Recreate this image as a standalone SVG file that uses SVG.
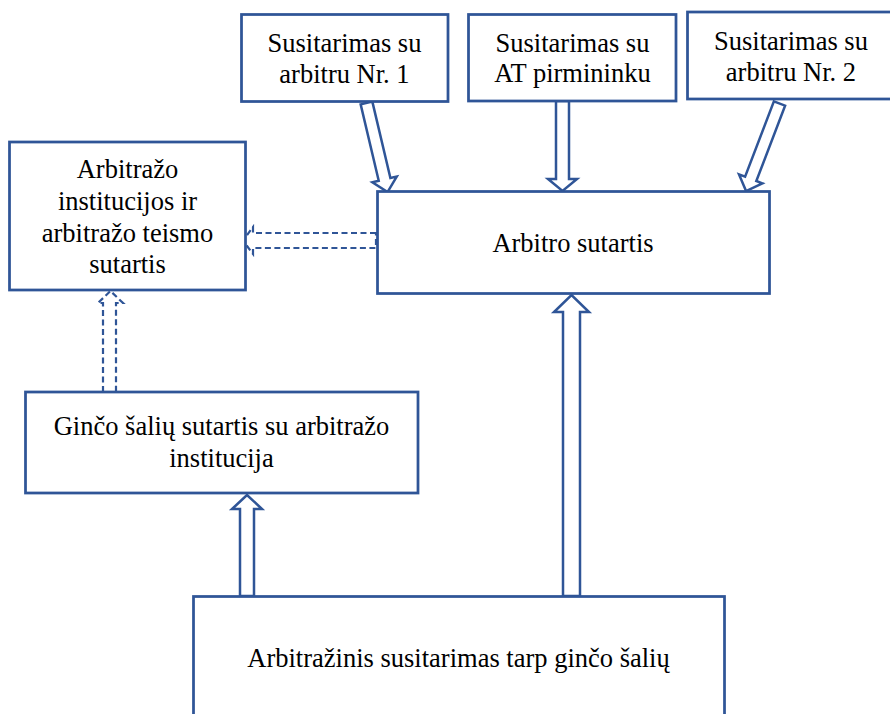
<svg xmlns="http://www.w3.org/2000/svg" width="890" height="714" viewBox="0 0 890 714">
<style>
.box{fill:#fff;stroke:#2F5597;stroke-width:2.75}
.arr{fill:#fff;stroke:#2F5597;stroke-width:2.5;stroke-linejoin:miter}
.dash{fill:#fff;stroke:#2F5597;stroke-width:2.2;stroke-dasharray:6 3.5}
.t{font-family:'Liberation Serif','DejaVu Serif',serif;font-size:26.5px;fill:#000;text-anchor:middle}
</style>
<rect x="0" y="0" width="890" height="714" fill="#fff"/>
<g id="connectors">
  <polygon class="arr" transform="translate(366.5,103) rotate(-13.3) translate(0,91.5)" points="-6,-91.5 6,-91.5 6,-13 12.5,-13 0,0 -12.5,-13 -6,-13"/>
  <polygon class="arr" points="556,101 569,101 569,179 577,179 562.5,191 548,179 556,179"/>
  <polygon class="arr" transform="translate(779.5,103.5) rotate(20.9) translate(0,93.7)" points="-6,-93.7 6,-93.7 6,-13 12.5,-13 0,0 -12.5,-13 -6,-13"/>
  <polygon class="arr" points="563,596 580,596 580,312 589,312 571.5,295 554,312 563,312"/>
  <polygon class="arr" points="240,596 254,596 254,509 262,509 247,495 232,509 240,509"/>
  <polygon class="dash" points="376,233 253,233 253,227 243,240.5 253,254 253,248 376,248"/>
  <polygon class="dash" points="103,392 103,303 98,303 110.5,291 123,303 116,303 116,392"/>
</g>
<g id="n1">
  <rect class="box" x="241.5" y="14.5" width="206.5" height="87"/>
  <text class="t" font-family="Liberation Serif, serif" x="344.5" y="52">Susitarimas su</text>
  <text class="t" font-family="Liberation Serif, serif" x="344.5" y="83">arbitru Nr. 1</text>
</g>
<g id="n2">
  <rect class="box" x="468.5" y="14.5" width="207.5" height="86.5"/>
  <text class="t" x="572.5" y="52">Susitarimas su</text>
  <text class="t" x="572.5" y="82">AT pirmininku</text>
</g>
<g id="n3">
  <rect class="box" x="687.5" y="12" width="210" height="87"/>
  <text class="t" x="791" y="50">Susitarimas su</text>
  <text class="t" x="791" y="81">arbitru Nr. 2</text>
</g>
<g id="n4">
  <rect class="box" x="9.5" y="142" width="236" height="148"/>
  <text class="t" x="127.5" y="178">Arbitražo</text>
  <text class="t" x="127.5" y="210">institucijos ir</text>
  <text class="t" x="127.5" y="242">arbitražo teismo</text>
  <text class="t" x="127.5" y="273">sutartis</text>
</g>
<g id="n5">
  <rect class="box" x="377.5" y="191.5" width="392" height="102"/>
  <text class="t" x="573" y="252">Arbitro sutartis</text>
</g>
<g id="n6">
  <rect class="box" x="25.5" y="392" width="392.5" height="101"/>
  <text class="t" x="221.5" y="435">Ginčo šalių sutartis su arbitražo</text>
  <text class="t" x="221.5" y="467">institucija</text>
</g>
<g id="n7">
  <rect class="box" x="193.5" y="596.5" width="531" height="130"/>
  <text class="t" x="458.5" y="667">Arbitražinis susitarimas tarp ginčo šalių</text>
</g>
</svg>
